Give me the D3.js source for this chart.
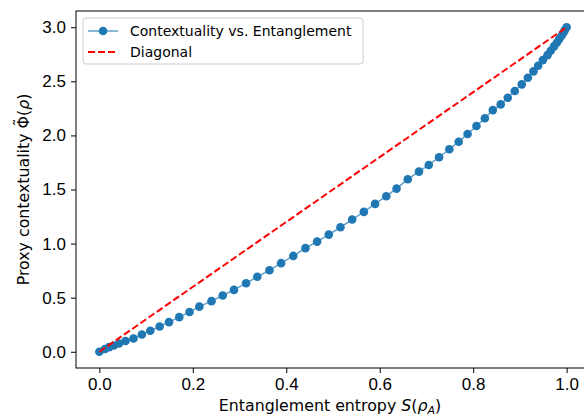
<!DOCTYPE html>
<head>
  <meta charset="utf-8">
  <title>Contextuality vs. Entanglement</title>
  <style>
  body { margin: 0; background: #fff; }
  svg { font-family: "DejaVu Sans", sans-serif; }
  .axis path, .axis line { stroke: #000; stroke-width: 1; }
  .axis text { font-size: 17px; fill: #000; }
  .label { font-size: 15.8px; fill: #000; }
  .legend text { font-size: 14px; fill: #000; }
  </style>
</head>

<svg id="chart"></svg>

<script src="https://cdn.jsdelivr.net/npm/d3@7"></script>

<script>
"use strict";

// entropia S(rho_A)
var entropy = [0, 0.012, 0.021, 0.031, 0.042, 0.056, 0.073, 0.091, 0.109, 0.129,
  0.149, 0.171, 0.193, 0.214, 0.240, 0.264, 0.288, 0.314, 0.338, 0.364,
  0.389, 0.415, 0.441, 0.466, 0.491, 0.516, 0.541, 0.566, 0.590, 0.614,
  0.636, 0.660, 0.684, 0.705, 0.727, 0.749, 0.769, 0.788, 0.807, 0.825,
  0.842, 0.859, 0.874, 0.889, 0.904, 0.917, 0.929, 0.939, 0.949, 0.959,
  0.966, 0.973, 0.979, 0.984, 0.989, 0.993, 0.996, 1.0];

// contextualidade proxy Phi~(rho)
var contextuality = [0, 0.025, 0.043, 0.058, 0.077, 0.099, 0.123, 0.160, 0.194, 0.234,
  0.274, 0.320, 0.367, 0.417, 0.468, 0.520, 0.572, 0.634, 0.693, 0.754,
  0.819, 0.886, 0.958, 1.018, 1.083, 1.151, 1.222, 1.293, 1.367, 1.438,
  1.508, 1.595, 1.665, 1.727, 1.798, 1.872, 1.942, 2.013, 2.087, 2.158,
  2.234, 2.287, 2.348, 2.410, 2.472, 2.533, 2.592, 2.644, 2.696, 2.742,
  2.782, 2.823, 2.856, 2.890, 2.921, 2.948, 2.973, 3.0];

var diagonalX = [0, 1];
var diagonalY = [0, 3];

var xTicks = [0, 0.2, 0.4, 0.6, 0.8, 1.0];
var yTicks = [0, 0.5, 1.0, 1.5, 2.0, 2.5, 3.0];

var seriesNames = ["Contextuality vs. Entanglement", "Diagonal"];

var totalWidth = 584,
    totalHeight = 418;

var svg = d3.select("#chart")
    .attr("width", totalWidth)
    .attr("height", totalHeight);

// margens (o eixo direito fica cortado, como no original)
var margin = {top: 11, right: -6, bottom: 50, left: 76},
    width = totalWidth - margin.left - margin.right,
    height = totalHeight - margin.top - margin.bottom;

var g = svg.append("g")
    .attr("transform", "translate(" + margin.left + "," + margin.top + ")");

var x = d3.scaleLinear().domain([-0.05, 1.05]).range([0, width]);
var y = d3.scaleLinear().domain([-0.15, 3.15]).range([height, 0]);

var data = entropy.map(function(d, i) { return {s: d, phi: contextuality[i]}; });
var diag = diagonalX.map(function(d, i) { return {s: d, phi: diagonalY[i]}; });

var line = d3.line()
    .x(function(d) { return x(d.s); })
    .y(function(d) { return y(d.phi); });

// eixos
g.append("g")
    .attr("class", "axis axis--x")
    .attr("transform", "translate(0," + height + ")")
    .call(d3.axisBottom(x).tickValues(xTicks).tickFormat(d3.format(".1f")).tickSize(5).tickPadding(5));

g.append("g")
    .attr("class", "axis axis--y")
    .call(d3.axisLeft(y).tickValues(yTicks).tickFormat(d3.format(".1f")).tickSize(5).tickPadding(5));

g.selectAll(".axis path").attr("d", null);

// moldura
g.append("rect")
    .attr("width", width)
    .attr("height", height)
    .attr("fill", "none")
    .attr("stroke", "#000")
    .attr("stroke-width", 1);

// curva principal
g.append("path")
    .datum(data)
    .attr("fill", "none")
    .attr("stroke", "#1f77b4")
    .attr("stroke-opacity", 0.7)
    .attr("stroke-width", 1.5)
    .attr("d", line);

g.selectAll(".dot")
    .data(data)
  .enter().append("circle")
    .attr("class", "dot")
    .attr("cx", function(d) { return x(d.s); })
    .attr("cy", function(d) { return y(d.phi); })
    .attr("r", 4.3)
    .attr("fill", "#1f77b4");

// diagonal
g.append("path")
    .datum(diag)
    .attr("fill", "none")
    .attr("stroke", "red")
    .attr("stroke-width", 2)
    .attr("stroke-dasharray", "7,3")
    .attr("d", line);

// rótulos
var xl = svg.append("text")
    .attr("class", "label")
    .attr("x", margin.left + width / 2 - 3)
    .attr("y", 411)
    .attr("text-anchor", "middle");
xl.append("tspan").text("Entanglement entropy ");
xl.append("tspan").attr("font-style", "italic").text("S");
xl.append("tspan").text("(");
xl.append("tspan").attr("font-style", "italic").text("ρ");
xl.append("tspan").attr("font-style", "italic").attr("font-size", "11px").attr("dy", 3).text("A");
xl.append("tspan").attr("dy", -3).text(")");

var ylg = svg.append("g")
    .attr("transform", "translate(29," + (margin.top + height / 2) + ") rotate(-90)");
var yl = ylg.append("text")
    .attr("class", "label")
    .attr("text-anchor", "middle");
var prefix = "Proxy contextuality ";
yl.append("tspan").text(prefix);
yl.append("tspan").text("Φ");
yl.append("tspan").text("(");
yl.append("tspan").attr("font-style", "italic").text("ρ");
yl.append("tspan").text(")");

// til sobre o Phi
var phiBox = yl.node().getExtentOfChar(prefix.length);
ylg.append("text")
    .attr("class", "label")
    .attr("text-anchor", "middle")
    .attr("x", phiBox.x + phiBox.width / 2)
    .attr("y", -4.5)
    .text("\u02DC");

// legenda
var legend = svg.append("g")
    .attr("class", "legend")
    .attr("transform", "translate(83,18)");

legend.append("rect")
    .attr("width", 280)
    .attr("height", 46)
    .attr("rx", 3)
    .attr("fill", "#fff")
    .attr("fill-opacity", 0.8)
    .attr("stroke", "#cccccc");

var items = legend.selectAll(".item")
    .data(seriesNames)
  .enter().append("g")
    .attr("class", "item")
    .attr("transform", function(d, i) { return "translate(0," + (13 + i * 21) + ")"; });

items.append("line")
    .attr("x1", 5).attr("x2", 35)
    .attr("stroke", function(d, i) { return i === 0 ? "#1f77b4" : "red"; })
    .attr("stroke-opacity", function(d, i) { return i === 0 ? 0.7 : 1; })
    .attr("stroke-width", function(d, i) { return i === 0 ? 1.5 : 2; })
    .attr("stroke-dasharray", function(d, i) { return i === 0 ? null : "7,3"; });

items.filter(function(d, i) { return i === 0; })
    .append("circle")
    .attr("cx", 20)
    .attr("r", 4.3)
    .attr("fill", "#1f77b4");

items.append("text")
    .attr("x", 47)
    .attr("dy", "0.35em")
    .text(function(d) { return d; });
</script>
